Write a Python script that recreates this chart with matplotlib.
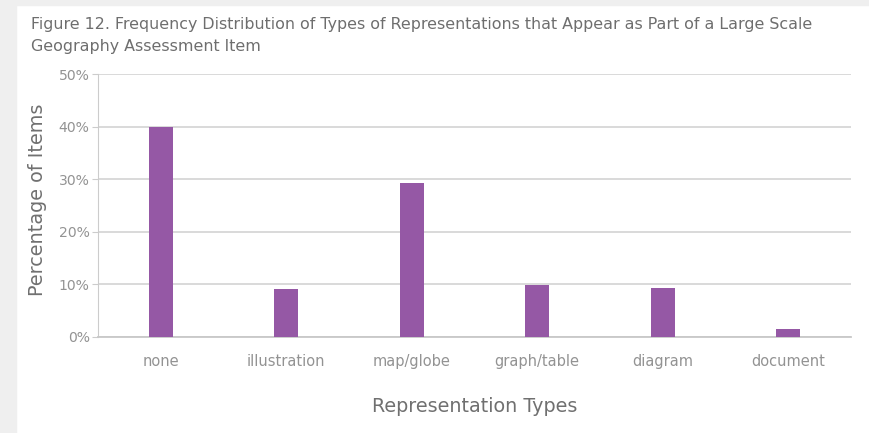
import matplotlib
matplotlib.use("Agg")
import matplotlib.pyplot as plt
from matplotlib.ticker import FuncFormatter
from matplotlib.patches import Rectangle

categories = ["none", "illustration", "map/globe", "graph/table", "diagram", "document"]
values = [40.0, 9.2, 29.2, 9.9, 9.4, 1.5]
yticks = [0, 10, 20, 30, 40, 50]
title_lines = ["Figure 12. Frequency Distribution of Types of Representations that Appear as Part of a Large Scale",
               "Geography Assessment Item"]

plt.rcParams['font.family'] = ['DejaVu Sans']

W, H = 870, 433
fig = plt.figure(figsize=(W/100, H/100), dpi=100)
fig.patch.set_facecolor("white")
fig.patches.append(Rectangle((0, 0), 16/W, 1, transform=fig.transFigure, color="#efefef", zorder=0))
fig.patches.append(Rectangle((0, 1-5/H), 1, 5/H, transform=fig.transFigure, color="#efefef", zorder=0))

ax = fig.add_axes([98/W, 1-337/H, (851-98)/W, (337-74)/H])
x = range(len(categories))
ax.bar(x, values, width=0.19, color="#9558a5", zorder=3)
ax.set_xlim(-0.5, len(categories)-0.5)
ax.set_ylim(0, 50)
ax.set_yticks(yticks)
ax.yaxis.set_major_formatter(FuncFormatter(lambda v, p: f"{int(v)}%"))
ax.set_xticks(list(x))
ax.set_xticklabels(categories)
ax.grid(axis="y", color="#d3d3d3", linewidth=1.2, zorder=0)
for s in ["top", "right"]:
    ax.spines[s].set_visible(False)
ax.spines["left"].set_color("#cccccc")
ax.spines["bottom"].set_color("#c8c8c8")
ax.spines["bottom"].set_linewidth(1.3)
ax.tick_params(axis="y", colors="#cccccc", labelcolor="#939393", labelsize=10, length=4, pad=2)
ax.tick_params(axis="x", length=0, labelcolor="#939393", labelsize=10, pad=12)

ylab = fig.text(38/W, 1-200/H, "Percentage of Items", rotation=90, fontsize=12, color="#707070",
                ha="center", va="center")
xlab = fig.text((98+851)/2/W, 1-407/H, "Representation Types", fontsize=12, color="#707070",
                ha="center", va="center")
t1 = fig.text(31/W, 1-24/H, title_lines[0], fontsize=10, color="#6e6e6e", va="center", ha="left")
t2 = fig.text(31/W, 1-47/H, title_lines[1], fontsize=10, color="#6e6e6e", va="center", ha="left")

# fit font sizes to the measured text widths of the reference
fig.canvas.draw()
r = fig.canvas.get_renderer()
def fit(t, target, horiz=True):
    bb = t.get_window_extent(r)
    cur = bb.width if horiz else bb.height
    t.set_fontsize(t.get_fontsize() * target / cur)
fit(t1, 781)
t2.set_fontsize(t1.get_fontsize())
fit(xlab, 205)
fit(ylab, 193, horiz=False)
xt = ax.get_xticklabels()[1]
s = 10 * 78 / xt.get_window_extent(r).width
ax.tick_params(axis="x", labelsize=s)
yt = ax.get_yticklabels()[-1]
s2 = 10 * 31 / yt.get_window_extent(r).width
ax.tick_params(axis="y", labelsize=s2)

fig.savefig("out.png", dpi=100)
